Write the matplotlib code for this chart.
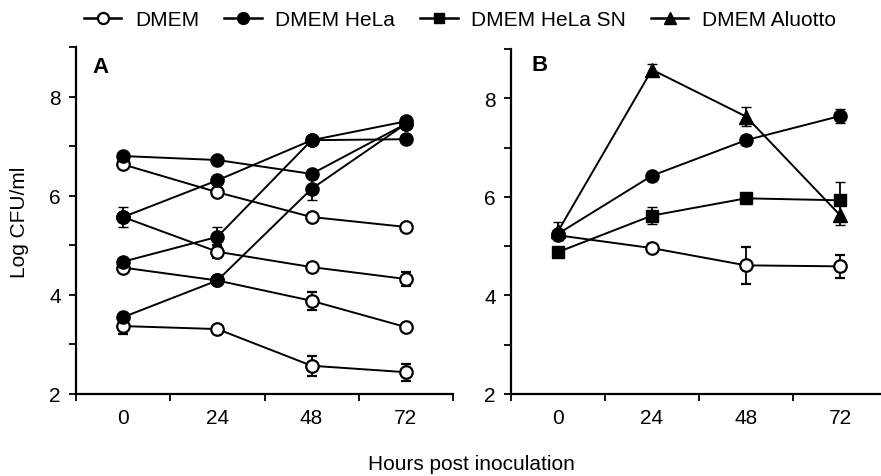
import matplotlib
matplotlib.use("Agg")
import matplotlib.pyplot as plt
from matplotlib.lines import Line2D
import numpy as np

plt.rcParams['font.family'] = ['Liberation Sans', 'DejaVu Sans']

hours = ['0', '24', '48', '72']
x = np.arange(len(hours))

# Panel A: four DMEM (open) and four DMEM HeLa (filled) experiments
a_open = [
    [6.63, 6.07, 5.57, 5.37],
    [5.57, 4.87, 4.56, 4.32],
    [4.55, 4.29, 3.88, 3.35],
    [3.37, 3.31, 2.57, 2.44],
]
a_open_err = [
    [0.05, 0.05, 0.05, 0.05],
    [0.05, 0.13, 0.08, 0.15],
    [0.05, 0.05, 0.18, 0.06],
    [0.15, 0.05, 0.20, 0.17],
]
a_filled = [
    [6.80, 6.72, 6.44, 7.45],
    [5.57, 6.31, 7.12, 7.14],
    [4.67, 5.17, 7.12, 7.50],
    [3.55, 4.29, 6.14, 7.45],
]
a_filled_err = [
    [0.05, 0.07, 0.05, 0.05],
    [0.20, 0.06, 0.05, 0.08],
    [0.05, 0.19, 0.05, 0.05],
    [0.05, 0.05, 0.22, 0.05],
]

# Panel B
b_dmem = [5.22, 4.96, 4.61, 4.59]
b_dmem_err = [0.05, 0.08, 0.37, 0.23]
b_hela = [5.25, 6.43, 7.15, 7.64]
b_hela_err = [0.05, 0.05, 0.10, 0.15]
b_sn = [4.88, 5.62, 5.97, 5.93]
b_sn_err = [0.05, 0.17, 0.05, 0.37]
b_aluotto = [5.30, 8.58, 7.63, 5.63]
b_aluotto_err = [0.18, 0.12, 0.19, 0.20]

legend_labels = ['DMEM', 'DMEM HeLa', 'DMEM HeLa SN', 'DMEM Aluotto']

FS = 15
LW = 1.4
styles = {
    'open': dict(marker='o', ms=9, mfc='white', mec='black', mew=1.6),
    'circle': dict(marker='o', ms=9.5, mfc='black', mec='black', mew=1),
    'square': dict(marker='s', ms=8.5, mfc='black', mec='black', mew=1),
    'tri': dict(marker='^', ms=10, mfc='black', mec='black', mew=1),
}

fig = plt.figure(figsize=(8.81, 4.77), dpi=100)
axA = fig.add_axes([76/881, 82/477, 377/881, 347/477])
axB = fig.add_axes([511/881, 82/477, 376/881, 345/477])


def style_axes(ax):
    ax.set_xlim(-0.5, 3.5)
    ax.set_ylim(2, 9)
    for s in ['top', 'right']:
        ax.spines[s].set_visible(False)
    for s in ['left', 'bottom']:
        ax.spines[s].set_linewidth(1.6)
    ax.set_xticks(x)
    ax.set_xticklabels(hours, fontsize=FS)
    ax.set_xticks(np.arange(-0.5, 4.0, 1.0), minor=True)
    ax.tick_params(axis='x', which='major', length=0, pad=10)
    ax.tick_params(axis='x', which='minor', length=5, width=1.3, direction='out')
    ax.set_yticks([2, 4, 6, 8])
    ax.set_yticklabels(['2', '4', '6', '8'], fontsize=FS)
    ax.set_yticks([3, 5, 7, 9], minor=True)
    ax.tick_params(axis='y', which='both', length=5, width=1.3, direction='out', pad=6)


def draw(ax, y, err, st, z):
    ax.errorbar(x, y, yerr=err, color='black', lw=LW, elinewidth=1.3,
                capsize=3.5, capthick=1.3, zorder=z, **styles[st])


for y, e in zip(a_open, a_open_err):
    draw(axA, y, e, 'open', 3)
for y, e in zip(a_filled, a_filled_err):
    draw(axA, y, e, 'circle', 4)

draw(axB, b_dmem, b_dmem_err, 'open', 3)
draw(axB, b_hela, b_hela_err, 'circle', 4)
draw(axB, b_sn, b_sn_err, 'square', 5)
draw(axB, b_aluotto, b_aluotto_err, 'tri', 6)

style_axes(axA)
style_axes(axB)

axA.text(0.066, 0.945, 'A', transform=axA.transAxes, fontsize=16,
         fontweight='bold', ha='center', va='center')
axB.text(0.075, 0.955, 'B', transform=axB.transAxes, fontsize=16,
         fontweight='bold', ha='center', va='center')

fig.text(20/881, 1 - 222/477, 'Log CFU/ml', rotation=90, fontsize=FS,
         ha='center', va='center')
fig.text(471/881, 1 - 465/477, 'Hours post inoculation', fontsize=FS,
         ha='center', va='center')

handles = [Line2D([], [], color='black', lw=1.8,
                  **{**styles[k], 'ms': styles[k]['ms'] - 1})
           for k in ['open', 'circle', 'square', 'tri']]
fig.legend(handles, legend_labels, loc='center', bbox_to_anchor=(460/881, 1 - 21/477),
           ncol=4, frameon=False, fontsize=FS, handlelength=1.8,
           handletextpad=0.65, columnspacing=1.2)

fig.savefig('out.png', dpi=100)
